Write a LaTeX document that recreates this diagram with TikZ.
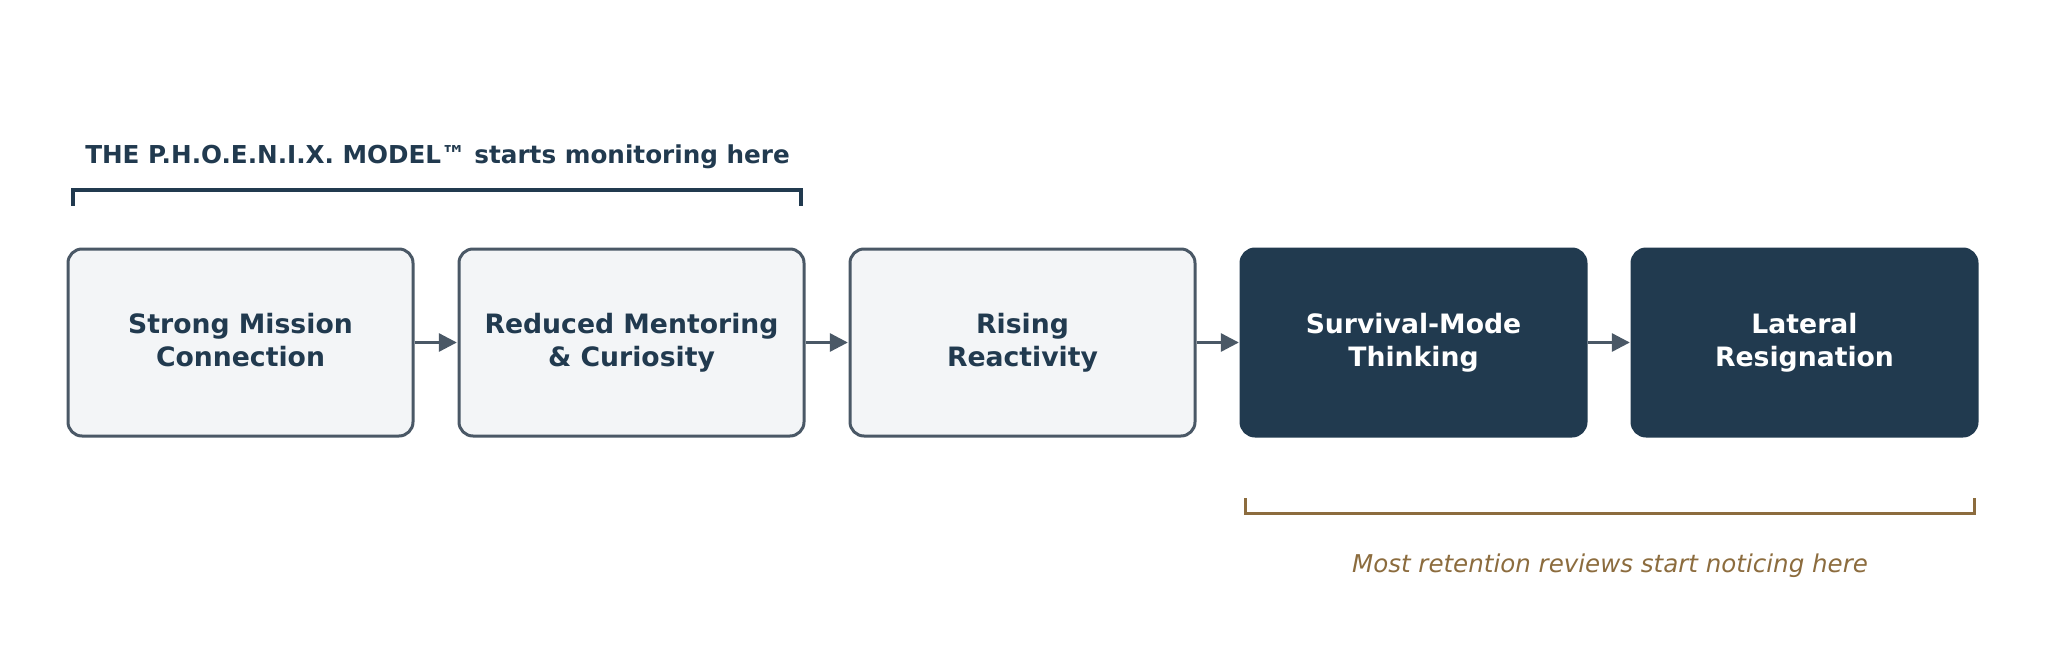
\documentclass[tikz,border=0pt]{standalone}
\usepackage{fontspec}
\setmainfont{DejaVu Sans}
\usetikzlibrary{arrows.meta}
\definecolor{navy}{HTML}{213A4F}
\definecolor{slate}{HTML}{4A5866}
\definecolor{lightfill}{HTML}{F3F5F7}
\definecolor{gold}{HTML}{8C6C3E}
\begin{document}
\begin{tikzpicture}[x=0.75pt,y=-0.75pt,
  stagebox/.style={rectangle, rounded corners=10.5pt, minimum width=258.75pt, minimum height=140.25pt,
    line width=2.25pt, inner sep=0pt, align=center,
    font=\fontsize{20}{25}\selectfont\bfseries,
    execute at begin node=\strut, execute at end node=\strut},
  boxtext/.style={rectangle, inner sep=0pt, align=center, yshift=-2pt,
    font=\fontsize{20}{25}\selectfont\bfseries,
    execute at begin node=\strut, execute at end node=\strut},
  lightbox/.style={stagebox, draw=slate, fill=lightfill, text=navy},
  darkbox/.style={stagebox, draw=navy, fill=navy, text=white},
  flow/.style={draw=slate, line width=2.25pt, -{Triangle[length=13.5pt,width=13.5pt]}, shorten >=0.5pt},
  bracket/.style={line width=2.4pt}
]
\useasboundingbox (0,0) rectangle (2046,650);
\node[lightbox] (s1) at (240.5,342.5) {};
\node[lightbox] (s2) at (631.5,342.5) {};
\node[lightbox] (s3) at (1022.5,342.5) {};
\node[darkbox] (s4) at (1413.5,342.5) {};
\node[darkbox] (s5) at (1804.5,342.5) {};
\node[boxtext, text=navy] (t1) at (s1.center) {Strong Mission\\Connection};
\node[boxtext, text=navy] (t2) at (s2.center) {Reduced Mentoring\\\& Curiosity};
\node[boxtext, text=navy] (t3) at (s3.center) {Rising\\Reactivity};
\node[boxtext, text=white] (t4) at (s4.center) {Survival-Mode\\Thinking};
\node[boxtext, text=white] (t5) at (s5.center) {Lateral\\Resignation};
\draw[flow] (s1) -- (s2);
\draw[flow] (s2) -- (s3);
\draw[flow] (s3) -- (s4);
\draw[flow] (s4) -- (s5);
\node[anchor=base west, inner sep=0pt, text=navy, font=\fontsize{18.5}{22}\selectfont\bfseries] (toplabel) at (85,163.3) {THE P.H.O.E.N.I.X. MODEL™ starts monitoring here};
\coordinate (tl) at (73,205.7);
\coordinate (tr) at (801,205.7);
\draw[bracket, draw=navy] (tl) -- (73,190) -- (801,190) -- (tr);
\coordinate (bl) at (1245.5,498);
\coordinate (br) at (1974.5,498);
\draw[bracket, draw=gold] (bl) -- (1245.5,513.5) -- (1974.5,513.5) -- (br);
\node[anchor=base, inner sep=0pt, text=gold, font=\fontsize{18.4}{22}\selectfont\itshape] (botlabel) at (1610,572.7) {Most retention reviews start noticing here};
\end{tikzpicture}
\end{document}
